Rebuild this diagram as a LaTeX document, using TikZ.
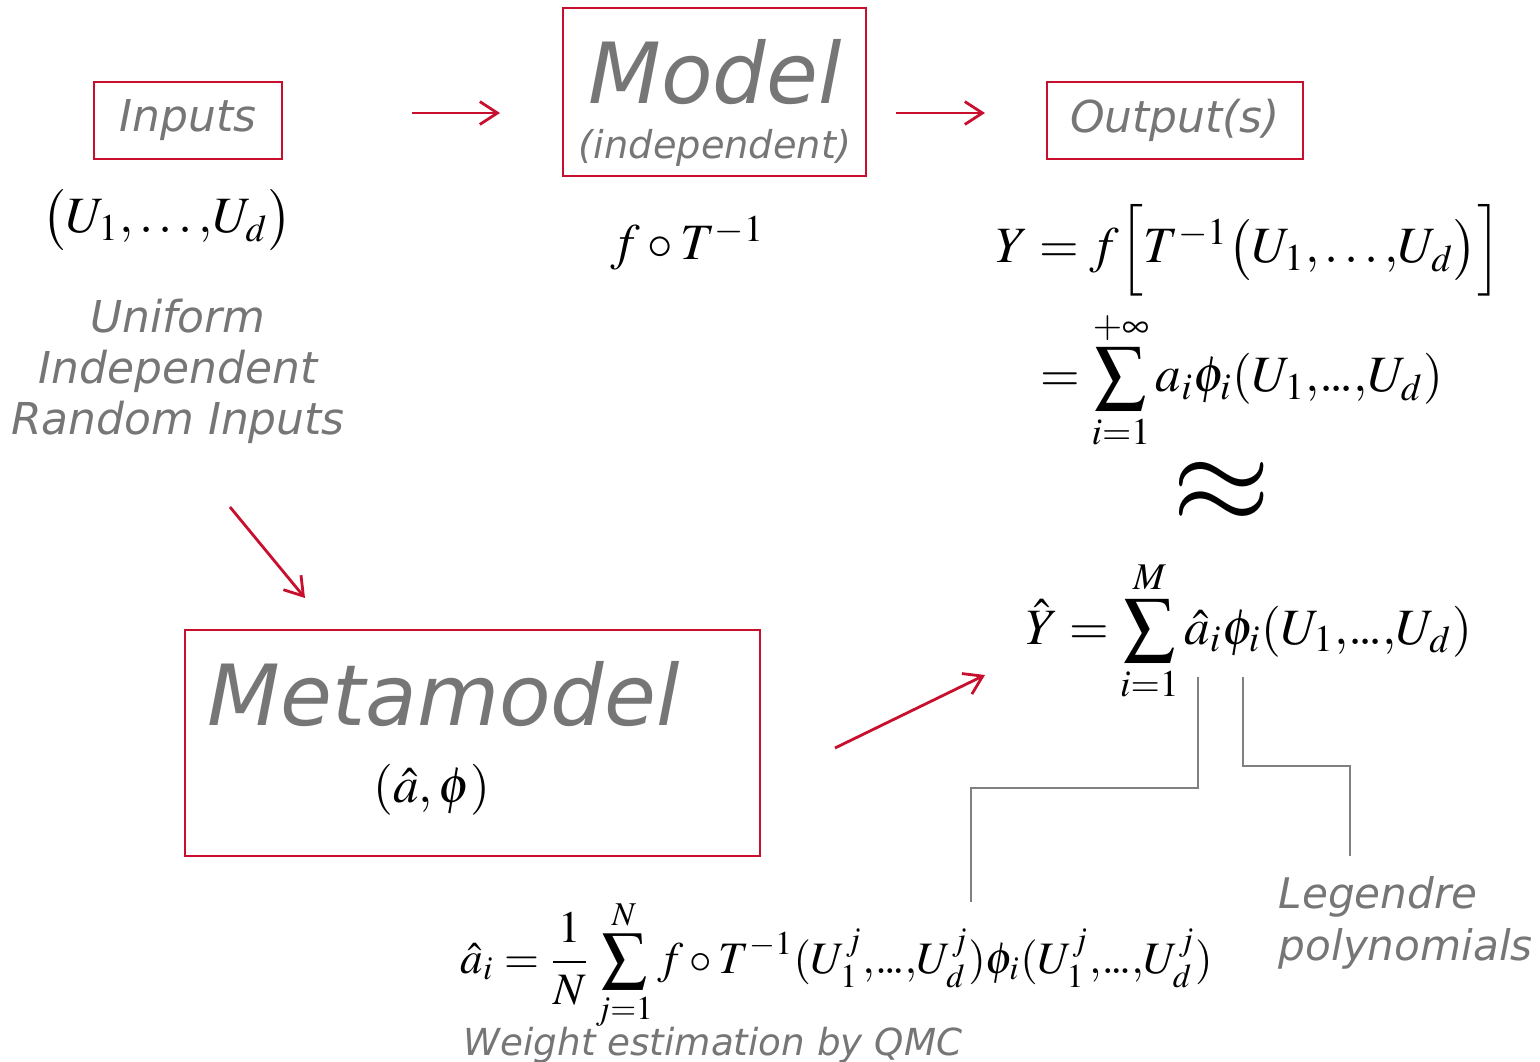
\documentclass[tikz,border=0pt]{standalone}
\usepackage{mathptmx}
\usepackage[no-math]{fontspec}
\setmainfont{DejaVu Sans}
\usetikzlibrary{arrows.meta, positioning, calc}
\definecolor{crim} {RGB}{200, 16, 46}
\definecolor{tgray}{RGB}{118,118,118}
\definecolor{lgray}{RGB}{128,128,128}
\newcommand{\cm}{{,}}% tight comma
\newcommand{\dd}{{.}\mkern-1.5mu{.}\mkern-1.5mu{.}}% tight dots
\tikzset{
  % Red framed box
  RBox/.style={rectangle,draw=crim,line width=0.8pt,inner sep=0pt,
               text=tgray,font=\fontsize{12.5}{15}\selectfont\itshape},
  % Gray italic label
  Lab/.style={text=tgray,inner sep=0pt,
              font=\fontsize{12.5}{14.5}\selectfont\itshape},
  % Black formula
  Fm/.style={text=black,inner sep=0pt,font=\fontsize{14.5}{17}\selectfont},
  % Arrows
  Arr/.style={-{Straight Barb[length=5pt,width=6.5pt]},line width=0.8pt,
              color=crim},
  Lnk/.style={line width=0.7pt,color=lgray},
}
\begin{document}
\begin{tikzpicture}
        \useasboundingbox (0,0) rectangle (15.4,-10.61);
        % Inputs box
        \node[RBox,minimum width=1.88cm,minimum height=0.77cm]
              at (1.88,-1.205) (inp) {Inputs};
        \node[Fm] at (1.67,-2.2) (uvec)
              {$\bigl(U_{1}\cm\ldots\cm U_{d}\bigr)$};
        \node[Lab,align=center,anchor=base] at (1.78,-4.34) (uni)
              {Uniform\\Independent\\Random Inputs};
        % Model box
        \node[RBox,minimum width=3.03cm,minimum height=1.68cm]
              at (7.145,-0.92) (mdl) {};
        \node[Lab,font=\fontsize{24}{28}\selectfont\itshape,anchor=base]
              at (7.15,-1.03) (mdlt) {Model};
        \node[Lab,font=\fontsize{10.9}{13}\selectfont\itshape,anchor=base]
              at (7.15,-1.58) (mdls) {(independent)};
        \node[Fm] at (6.88,-2.43) (fT) {$f\circ T^{-1}$};
        % Output box
        \node[RBox,minimum width=2.56cm,minimum height=0.77cm]
              at (11.75,-1.205) (out) {Output(s)};
        \node[Fm,anchor=west] at (9.95,-2.5) (yeq)
              {$Y=f\Bigl[T^{-1}\bigl(U_{1}\cm\ldots\cm U_{d}\bigr)\Bigr]$};
        \node[Fm,anchor=west] at (10.40,-3.8) (ysum)
              {$\displaystyle=\sum_{i=1}^{+\infty}a_{i}\phi_{i}(U_{1}\cm\dd\cm U_{d})$};
        \node[Fm,font=\fontsize{36}{36}\selectfont] at (12.22,-4.93) (apx)
              {$\approx$};
        \node[Fm,anchor=west] at (10.25,-6.31) (yhat)
              {$\displaystyle\hat{Y}=\sum_{i=1}^{M}\hat{a}_{i}\phi_{i}(U_{1}\cm\dd\cm U_{d})$};
        % Metamodel box
        \node[RBox,minimum width=5.75cm,minimum height=2.26cm]
              at (4.725,-7.43) (meta) {};
        \node[Lab,font=\fontsize{24}{28}\selectfont\itshape,
              anchor=base west] at (2.07,-7.25) (metat) {Metamodel};
        \node[Fm] at (4.32,-7.90) (metas) {$(\hat{a},\phi)$};
        % Weight estimation
        \node[Fm,font=\fontsize{12.8}{15}\selectfont,anchor=west]
              at (4.60,-9.65) (aeq)
              {$\displaystyle\hat{a}_{i}=\frac{1}{N}\sum_{j=1}^{N}f\circ T^{-1}(U_{1}^{j}\cm\dd\cm U_{d}^{j})\phi_{i}(U_{1}^{j}\cm\dd\cm U_{d}^{j})$};
        \node[Lab,font=\fontsize{10.6}{12}\selectfont\itshape,
              anchor=base west] at (4.63,-10.55) (qmc)
              {Weight estimation by QMC};
        \node[Lab,font=\fontsize{12}{14.7}\selectfont\itshape,
              align=left,anchor=base west] at (12.78,-9.60) (leg)
              {Legendre\\polynomials};
        % Arrow end points
        \coordinate (a1s) at (4.12,-1.13);
        \coordinate (a1e) at (5.00,-1.13);
        \coordinate (a2s) at (8.96,-1.13);
        \coordinate (a2e) at (9.85,-1.13);
        \coordinate (a3s) at (2.30,-5.07);
        \coordinate (a3e) at (3.05,-5.98);
        \coordinate (a4s) at (8.35,-7.48);
        \coordinate (a4e) at (9.85,-6.75);
        \draw[Arr] (a1s) -- (a1e);
        \draw[Arr] (a2s) -- (a2e);
        \draw[Arr] (a3s) -- (a3e);
        \draw[Arr] (a4s) -- (a4e);
        % Pointers to a_i and phi_i
        \coordinate (pa) at (11.98,-6.77);
        \coordinate (pp) at (12.43,-6.77);
        \coordinate (qa) at (9.71,-9.02);
        \coordinate (qp) at (13.50,-8.56);
        \draw[Lnk] (pa) -- ++(0,-1.11) -| (qa);
        \draw[Lnk] (pp) -- ++(0,-0.89) -| (qp);
      \end{tikzpicture}
\end{document}
